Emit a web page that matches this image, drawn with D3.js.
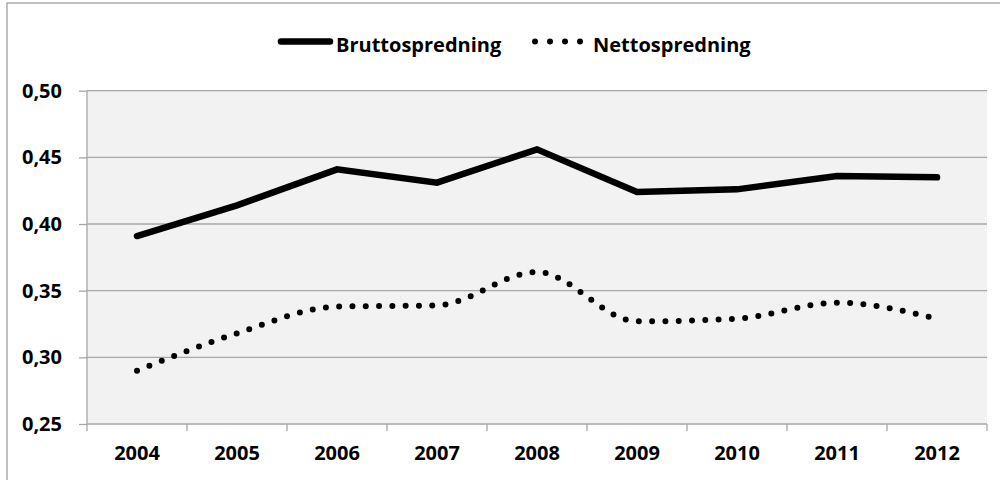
<!DOCTYPE html>
<html>
<head>
<meta charset="utf-8">
<script src="https://cdn.jsdelivr.net/npm/d3@7"></script>
<style>
	html, body { margin: 0; padding: 0; background: #fff; }
	svg text { font-family: 'Open Sans', sans-serif; font-weight: bold; fill: #000; }
</style>
</head>
<body>
<div id="chart"></div>
<script>

const years = ['2004', '2005', '2006', '2007', '2008', '2009', '2010', '2011', '2012'];
const brutto = [0.391, 0.414, 0.441, 0.431, 0.456, 0.424, 0.426, 0.436, 0.435];
const netto = [0.290, 0.318, 0.338, 0.339, 0.364, 0.327, 0.329, 0.341, 0.329];
const yTicks = [0.25, 0.30, 0.35, 0.40, 0.45, 0.50];
const seriesNames = ['Bruttospredning', 'Nettospredning'];

const width = 1000;
const height = 480;
const plot = { left: 87, right: 987, top: 90.7, bottom: 424 };

const svg = d3.select('#chart')
	.append('svg')
	.attr('width', width)
	.attr('height', height);

// outer chart frame (right / bottom edges cut off in the original)
svg.append('rect')
	.attr('x', 7)
	.attr('y', 3)
	.attr('width', 1100)
	.attr('height', 600)
	.attr('fill', 'none')
	.attr('stroke', '#a6a6a6')
	.attr('stroke-width', 1.4);

const x = d3.scaleBand()
	.domain(years)
	.range([plot.left, plot.right]);

const y = d3.scaleLinear()
	.domain([0.25, 0.50])
	.range([plot.bottom, plot.top]);

svg.append('rect')
	.attr('x', plot.left)
	.attr('y', plot.top)
	.attr('width', plot.right - plot.left)
	.attr('height', plot.bottom - plot.top)
	.attr('fill', '#f2f2f2');

// horizontal grid
svg.append('g')
	.selectAll('line')
	.data(yTicks.filter(d => d > 0.25))
	.join('line')
	.attr('x1', plot.left)
	.attr('x2', plot.right)
	.attr('y1', d => y(d))
	.attr('y2', d => y(d))
	.attr('stroke', '#a6a6a6')
	.attr('stroke-width', 1.3);

const fmt = d => d3.format('.2f')(d).replace('.', ',');

const yAxis = svg.append('g')
	.attr('transform', `translate(${plot.left},0)`)
	.call(d3.axisLeft(y).tickValues(yTicks).tickFormat(fmt).tickSize(8).tickPadding(17));

const xAxis = svg.append('g')
	.attr('transform', `translate(0,${plot.bottom})`)
	.call(d3.axisBottom(x).tickSize(0).tickPadding(22));

// boundary ticks between categories
xAxis.selectAll('.edge')
	.data(d3.range(years.length + 1))
	.join('line')
	.attr('class', 'edge')
	.attr('x1', i => plot.left + i * x.step())
	.attr('x2', i => plot.left + i * x.step())
	.attr('y1', 0)
	.attr('y2', 7)
	.attr('stroke', '#a6a6a6')
	.attr('stroke-width', 1.3);

[yAxis, xAxis].forEach(ax => {
	ax.select('.domain').attr('stroke', '#a6a6a6').attr('stroke-width', 1.3);
	ax.selectAll('.tick line').attr('stroke', '#a6a6a6').attr('stroke-width', 1.3);
	ax.selectAll('text')
		.attr('font-family', "'Open Sans', sans-serif")
		.attr('font-weight', 'bold')
		.attr('font-size', 20)
		.attr('fill', '#000');
});
xAxis.select('.domain').attr('d', `M${plot.left},0H${plot.right}`);
yAxis.select('.domain').attr('d', `M0,${plot.top}V${plot.bottom}`);

const cx = d => x(d) + x.bandwidth() / 2;

const lineBrutto = d3.line()
	.x((d, i) => cx(years[i]))
	.y(d => y(d));

const lineNetto = d3.line()
	.x((d, i) => cx(years[i]))
	.y(d => y(d))
	.curve(d3.curveMonotoneX);

svg.append('path')
	.datum(brutto)
	.attr('d', lineBrutto)
	.attr('fill', 'none')
	.attr('stroke', '#000')
	.attr('stroke-width', 6.5)
	.attr('stroke-linejoin', 'miter')
	.attr('stroke-linecap', 'round');

svg.append('path')
	.datum(netto)
	.attr('d', lineNetto)
	.attr('fill', 'none')
	.attr('stroke', '#000')
	.attr('stroke-width', 6)
	.attr('stroke-linecap', 'round')
	.attr('stroke-dasharray', '0 13.3');

// legend
const legend = svg.append('g');

legend.append('line')
	.attr('x1', 281).attr('x2', 330)
	.attr('y1', 41.5).attr('y2', 41.5)
	.attr('stroke', '#000')
	.attr('stroke-width', 6.5)
	.attr('stroke-linecap', 'round');

legend.append('text')
	.attr('x', 336)
	.attr('y', 52)
	.attr('font-size', 20)
	.text(seriesNames[0]);

legend.append('line')
	.attr('x1', 535).attr('x2', 581)
	.attr('y1', 41.5).attr('y2', 41.5)
	.attr('stroke', '#000')
	.attr('stroke-width', 6)
	.attr('stroke-linecap', 'round')
	.attr('stroke-dasharray', '0 15');

legend.append('text')
	.attr('x', 593)
	.attr('y', 52)
	.attr('font-size', 20)
	.text(seriesNames[1]);

</script>
</body>
</html>
